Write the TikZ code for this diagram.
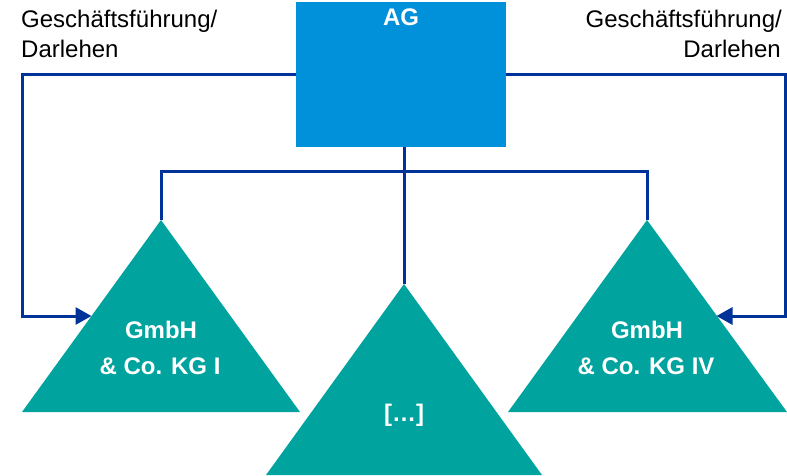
\documentclass[tikz,border=0pt]{standalone}
\usepackage{fontspec}
\setmainfont{Liberation Sans}
\usetikzlibrary{arrows.meta}
\definecolor{agblue}{RGB}{0,145,218}
\definecolor{kgteal}{RGB}{0,163,158}
\definecolor{linkblue}{RGB}{0,51,153}
\begin{document}
\begin{tikzpicture}[x=1pt,y=-1pt,
  link/.style={draw=linkblue,line width=3pt},
  arrowlink/.style={link,-{Triangle[length=16pt,width=17pt]}},
  kgshape/.style={fill=kgteal},
  boxtext/.style={font=\fontsize{24}{36}\selectfont\bfseries,text=white,inner sep=0pt,anchor=base},
  sidetext/.style={font=\fontsize{24}{30}\selectfont,inner sep=0pt,anchor=base}]
  \useasboundingbox (0,0) rectangle (787,475);

  % parent company
  \node[fill=agblue,minimum width=210pt,minimum height=145pt,inner sep=0pt,anchor=north west] (ag) at (296,2) {};
  \node[boxtext] (agt) at (401,25) {AG};

  % the three subsidiaries
  \fill[kgshape] (161,220) coordinate (k1top) -- (300,412) -- (22,412) -- cycle;
  \fill[kgshape] (404,284) coordinate (k2top) -- (542,475) -- (266,475) -- cycle;
  \fill[kgshape] (647,220) coordinate (k4top) -- (787,412) -- (508,412) -- cycle;
  \coordinate (k1side) at (91.5,316);
  \coordinate (k4side) at (716.5,316);

  \node[boxtext] (k1a) at (161,338) {GmbH};
  \node[boxtext] (k1b) at (160,374) {\& Co. KG I};
  \node[boxtext] (k2) at (404,421) {[…]};
  \node[boxtext] (k4a) at (647,338) {GmbH};
  \node[boxtext] (k4b) at (646,374) {\& Co. KG IV};

  % management / loan labels
  \node[sidetext,anchor=base west] (gl1) at (21,27) {Geschäftsführung/};
  \node[sidetext,anchor=base west] (gl2) at (21,57) {Darlehen};
  \node[sidetext,anchor=base east] (gr1) at (782,27) {Geschäftsführung/};
  \node[sidetext,anchor=base east] (gr2) at (781,57) {Darlehen};

  % connectors
  \coordinate (busl) at (161,171);
  \coordinate (busr) at (647,171);
  \draw[link] (k1top) -- (busl) -- (busr) -- (k4top);
  \draw[link] (ag.south -| k2top) -- (k2top);
  \draw[arrowlink] (ag.west |- 0,74) -- (22,74) |- (k1side);
  \draw[arrowlink] (ag.east |- 0,74) -- (785.5,74) |- (k4side);
\end{tikzpicture}
\end{document}
